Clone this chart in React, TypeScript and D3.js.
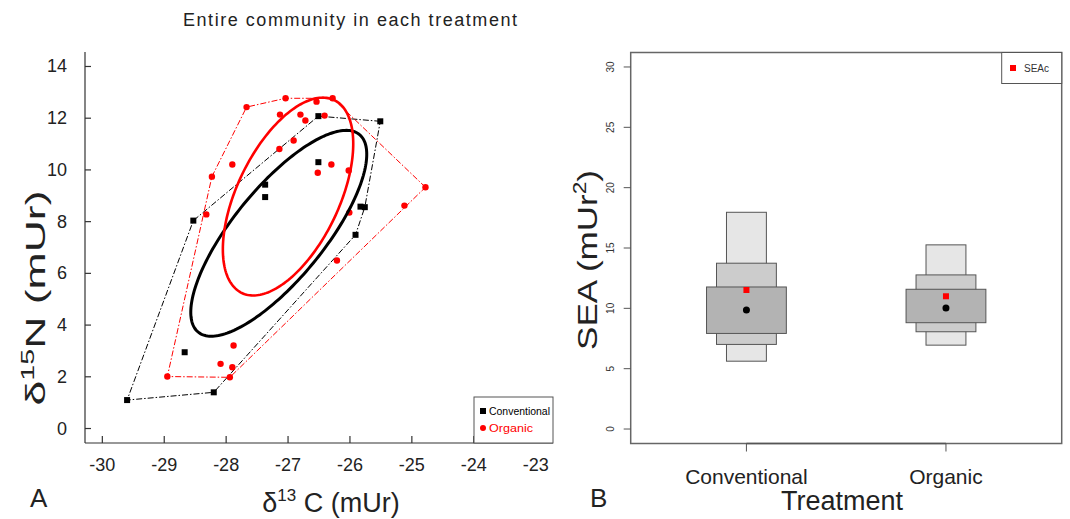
import React from 'react';
import * as d3 from 'd3';

// Panel A: stable isotope values, per treatment (δ13C, δ15N)
const conventional: [number, number][] = [
  [-29.6, 1.1], [-28.2, 1.4], [-28.67, 2.95], [-28.53, 8.04], [-27.37, 9.43],
  [-27.37, 8.95], [-26.51, 12.08], [-25.51, 11.88], [-26.51, 10.3], [-25.83, 8.58],
  [-25.76, 8.56], [-25.91, 7.49],
];
const organic: [number, number][] = [
  [-28.95, 2.01], [-27.94, 1.98], [-27.9, 2.37], [-28.09, 2.5], [-27.88, 3.21],
  [-28.32, 8.28], [-28.23, 9.74], [-27.9, 10.21], [-27.67, 12.43], [-27.04, 12.77],
  [-26.54, 12.64], [-26.28, 12.77], [-27.13, 12.14], [-26.8, 12.14], [-26.72, 11.91],
  [-26.41, 12.1], [-26.91, 11.14], [-27.14, 10.81], [-26.52, 9.89], [-26.3, 10.21],
  [-26.02, 9.98], [-26.01, 8.35], [-26.21, 6.5], [-25.12, 8.62], [-24.78, 9.33],
];
// standard ellipses: centre and covariance [sxx, sxy, syy]
const ellipseCentres: [number, number][] = [[-27.15, 7.55], [-27.0, 8.97]];
const ellipseCov: [number, number, number][] = [[2.02, 4.34, 15.84], [1.109, 2.15, 14.63]];
const groupColours = ['#000000', '#ff0000'];
const groupNames = ['Conventional', 'Organic'];
const xTicksA = [-30, -29, -28, -27, -26, -25, -24, -23];
const yTicksA = [0, 2, 4, 6, 8, 10, 12, 14];

// Panel B: SEA credible intervals [low, high] for 95, 75, 50 %
const treatments = ['Conventional', 'Organic'];
const sea95: [number, number][] = [[5.62, 17.96], [6.95, 15.26]];
const sea75: [number, number][] = [[7.01, 13.74], [8.06, 12.77]];
const sea50: [number, number][] = [[7.92, 11.77], [8.81, 11.58]];
const seaMode = [9.86, 10.03];
const seaC = [11.52, 11.0];
const yTicksB = [0, 5, 10, 15, 20, 25, 30];

const FONT = '"Liberation Sans", Arial, sans-serif';

const App = () => {
  const width = 1070;
  const height = 519;

  // panel A scales (R style 4% padding)
  const x = d3.scaleLinear().domain([-30.28, -22.72]).range([85, 553]);
  const y = d3.scaleLinear().domain([-0.56, 14.56]).range([443, 52]);

  const ellipsePath = (c: [number, number], cov: [number, number, number]) => {
    const [a, b, cc] = cov;
    const l11 = Math.sqrt(a);
    const l21 = b / l11;
    const l22 = Math.sqrt(cc - l21 * l21);
    const pts = d3.range(0, 201).map(i => {
      const t = (i / 200) * 2 * Math.PI;
      return [c[0] + l11 * Math.cos(t), c[1] + l21 * Math.cos(t) + l22 * Math.sin(t)] as [number, number];
    });
    return d3.line<[number, number]>().x(d => x(d[0])).y(d => y(d[1]))(pts) as string;
  };

  const hullPath = (pts: [number, number][]) => {
    const hull = d3.polygonHull(pts.map(p => [x(p[0]), y(p[1])] as [number, number]));
    return hull ? 'M' + hull.map(p => p.join(',')).join('L') + 'Z' : '';
  };

  // panel B scales
  const xb = d3.scaleLinear().domain([0.42, 2.58]).range([630.7, 1061.7]);
  const yb = d3.scaleLinear().domain([-1.2, 31.2]).range([443.5, 52.5]);

  const boxLayers = [
    { data: sea95, half: 0.1, fill: '#e6e6e6' },
    { data: sea75, half: 0.15, fill: '#cccccc' },
    { data: sea50, half: 0.2, fill: '#b3b3b3' },
  ];

  return (
    <svg width={width} height={height} style={{ position: 'absolute', left: 0, top: 0, background: '#fff' }} fontFamily={FONT}>
      {/* ---------- panel A ---------- */}
      <text x={350} y={26} fontSize={18} textAnchor="middle" fill="#222" textLength={334} lengthAdjust="spacing">
        Entire community in each treatment
      </text>

      {/* axes */}
      <g stroke="#333" strokeWidth={1.2}>
        <line x1={x.range()[0]} x2={x.range()[0]} y1={y.range()[0]} y2={y.range()[1]} />
        <line x1={x.range()[0]} x2={x.range()[1]} y1={y.range()[0]} y2={y.range()[0]} />
        {yTicksA.map(t => <line key={t} x1={x.range()[0]} x2={x.range()[0] + 6} y1={y(t)} y2={y(t)} />)}
        {xTicksA.map(t => <line key={t} x1={x(t)} x2={x(t)} y1={y.range()[0]} y2={y.range()[0] - 7} />)}
      </g>
      {yTicksA.map(t => (
        <text key={t} x={67} y={y(t) + 6} fontSize={18} textAnchor="end" fill="#222">{t}</text>
      ))}
      {xTicksA.map(t => (
        <text key={t} x={x(t)} y={471} fontSize={18} textAnchor="middle" fill="#222">{t}</text>
      ))}
      <text x={331} y={512} fontSize={27} textAnchor="middle" fill="#222">
        δ<tspan fontSize={17} dy={-11}>13</tspan><tspan dy={11}> C (mUr)</tspan>
      </text>
      <text transform="translate(45,298) rotate(-90)" fontSize={28} textAnchor="middle" fill="#222"
        textLength={215} lengthAdjust="spacingAndGlyphs">
        δ<tspan fontSize={18} dy={-11}>15</tspan><tspan dy={11}>N (mUr)</tspan>
      </text>
      <text x={30} y={507} fontSize={26} fill="#222">A</text>

      {/* hulls */}
      {[conventional, organic].map((pts, i) => (
        <path key={i} d={hullPath(pts)} fill="none" stroke={groupColours[i]}
          strokeWidth={1} strokeDasharray="6,2,1.5,2" />
      ))}
      {/* points */}
      {conventional.map((p, i) => (
        <rect key={i} x={x(p[0]) - 3} y={y(p[1]) - 3} width={6} height={6} fill="#000" />
      ))}
      {organic.map((p, i) => (
        <circle key={i} cx={x(p[0])} cy={y(p[1])} r={3.2} fill="#ff0000" />
      ))}
      {/* ellipses */}
      {ellipseCentres.map((c, i) => (
        <path key={i} d={ellipsePath(c, ellipseCov[i])} fill="none" stroke={groupColours[i]}
          strokeWidth={i === 0 ? 3 : 2.6} />
      ))}

      {/* legend A */}
      <rect x={474} y={397} width={79} height={46} fill="#fff" stroke="#555" strokeWidth={1} />
      <rect x={480} y={408} width={6} height={6} fill="#000" />
      <text x={489} y={415} fontSize={10} fill="#000" textLength={61} lengthAdjust="spacingAndGlyphs">{groupNames[0]}</text>
      <circle cx={483} cy={428} r={3} fill="#ff0000" />
      <text x={489} y={432} fontSize={11} fill="#ff0000" textLength={44} lengthAdjust="spacingAndGlyphs">{groupNames[1]}</text>

      {/* ---------- panel B ---------- */}
      {boxLayers.map((layer, li) => (
        <g key={li}>
          {layer.data.map((d, i) => (
            <rect key={i} x={xb(i + 1 - layer.half)} y={yb(d[1])}
              width={xb(i + 1 + layer.half) - xb(i + 1 - layer.half)} height={yb(d[0]) - yb(d[1])}
              fill={layer.fill} stroke="#555" strokeWidth={1} />
          ))}
        </g>
      ))}
      {seaMode.map((v, i) => (
        <circle key={i} cx={xb(i + 1)} cy={yb(v)} r={3.5} fill="#000" />
      ))}
      {seaC.map((v, i) => (
        <rect key={i} x={xb(i + 1) - 3} y={yb(v) - 3} width={6} height={6} fill="#ff0000" />
      ))}

      <rect x={xb.range()[0]} y={yb.range()[1]} width={xb.range()[1] - xb.range()[0]}
        height={yb.range()[0] - yb.range()[1]} fill="none" stroke="#666" strokeWidth={1.5} />
      <g stroke="#555" strokeWidth={1}>
        {yTicksB.map(t => <line key={t} x1={xb.range()[0] - 7} x2={xb.range()[0]} y1={yb(t)} y2={yb(t)} />)}
        <line x1={xb(1)} x2={xb(2)} y1={yb.range()[0]} y2={yb.range()[0]} strokeWidth={1.5} />
        {treatments.map((t, i) => <line key={t} x1={xb(i + 1)} x2={xb(i + 1)} y1={yb.range()[0]} y2={yb.range()[0] + 8} />)}
      </g>
      {yTicksB.map(t => (
        <text key={t} transform={`translate(614,${yb(t)}) rotate(-90)`} fontSize={10} textAnchor="middle" fill="#333">{t}</text>
      ))}
      {treatments.map((t, i) => (
        <text key={t} x={xb(i + 1)} y={484} fontSize={21} textAnchor="middle" fill="#222">{t}</text>
      ))}
      <text x={842} y={510} fontSize={27} textAnchor="middle" fill="#222">Treatment</text>
      <text transform="translate(597,260) rotate(-90)" fontSize={28} textAnchor="middle" fill="#222"
        textLength={180} lengthAdjust="spacingAndGlyphs">
        SEA (mUr<tspan fontSize={18} dy={-11}>2</tspan><tspan dy={11}>)</tspan>
      </text>
      <text x={590} y={507} fontSize={26} fill="#222">B</text>

      {/* legend B */}
      <rect x={1001.7} y={yb.range()[1]} width={xb.range()[1] - 1001.7} height={31} fill="#fff" stroke="#555" strokeWidth={1} />
      <rect x={1010} y={65} width={6} height={6} fill="#ff0000" />
      <text x={1024} y={72} fontSize={10} fill="#333">SEAc</text>
    </svg>
  );
};

export default App;
